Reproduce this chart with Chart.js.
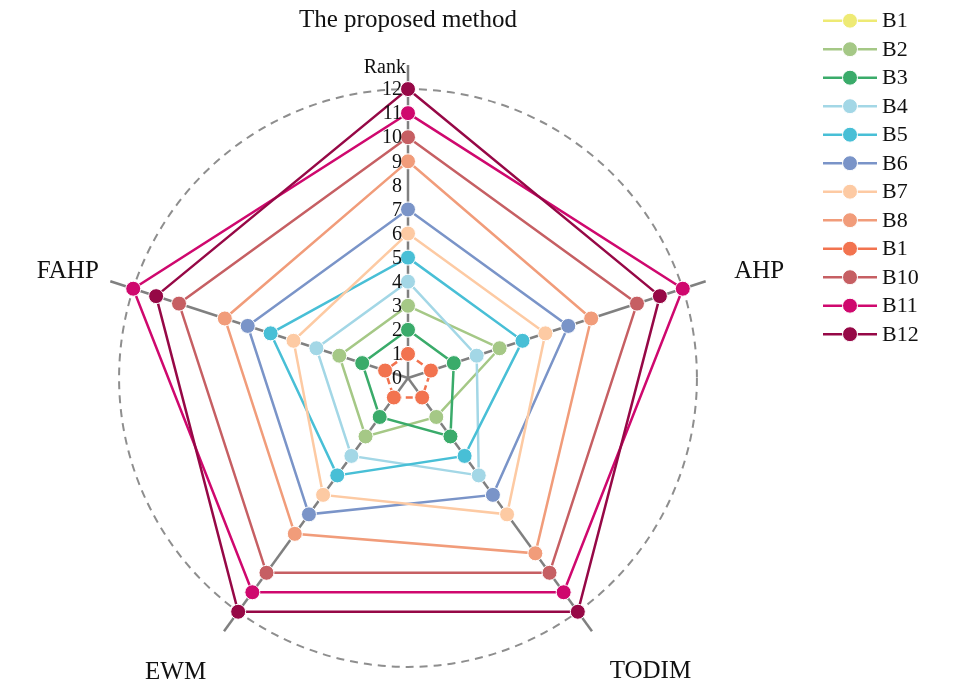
<!DOCTYPE html>
<html lang="en">
<head>
    <meta charset="UTF-8">
    <title>Rank radar</title>
    <script src="https://cdn.jsdelivr.net/npm/chart.js"></script>
    <style>
        body {
            margin: 0;
            background: #ffffff;
        }

        #wrap {
            width: 975px;
            height: 696px;
            position: relative;
        }
    </style>
</head>
<body>
    <div id="wrap">
        <canvas id="rankChart"></canvas>
    </div>

    <script>
        // axes, clockwise from the top
        const methods = ['The proposed method', 'AHP', 'TODIM', 'EWM', 'FAHP'];

        // rank of each alternative under each method (B1 is not drawn in the figure)
        const b1 = [null, null, null, null, null];
        const b2 = [3, 4, 2, 3, 3];
        const b3 = [2, 2, 3, 2, 2];
        const b4 = [4, 3, 5, 4, 4];
        const b5 = [5, 5, 4, 5, 6];
        const b6 = [7, 7, 6, 7, 7];
        const b7 = [6, 6, 7, 6, 5];
        const b8 = [9, 8, 9, 8, 8];
        const b9 = [1, 1, 1, 1, 1];
        const b10 = [10, 10, 10, 10, 10];
        const b11 = [11, 12, 11, 11, 12];
        const b12 = [12, 11, 12, 12, 11];

        const seriesNames = ['B1', 'B2', 'B3', 'B4', 'B5', 'B6', 'B7', 'B8', 'B1', 'B10', 'B11', 'B12'];
        const seriesData = [b1, b2, b3, b4, b5, b6, b7, b8, b9, b10, b11, b12];
        const colors = [
            '#eeea74', '#a5c886', '#3aab6a', '#a3d7e6', '#48bfd6', '#7a94c8',
            '#fdcaa3', '#f19c7a', '#f2734f', '#c65f63', '#cf086e', '#960846'
        ];

        const serif = "'Liberation Serif', 'DejaVu Serif', serif";

        const datasets = seriesData.map((values, i) => ({
            label: seriesNames[i],
            data: values,
            borderColor: colors[i],
            backgroundColor: colors[i],
            pointBackgroundColor: colors[i],
            pointBorderColor: '#ffffff',
            pointBorderWidth: 1,
            pointRadius: 7.5,
            pointHoverRadius: 7.5,
            borderWidth: 2.5,
            borderDash: i === 8 ? [7, 4] : [],
            fill: false,
            // later series sit on top, as in the figure
            order: seriesData.length - i
        }));

        // tick numbers, axis names and the legend, drawn by hand
        const extras = {
            id: 'extras',
            afterDatasetsDraw(chart) {
                const ctx = chart.ctx;
                const r = chart.scales.r;

                ctx.save();
                ctx.fillStyle = '#111111';
                ctx.textAlign = 'right';
                ctx.textBaseline = 'middle';
                ctx.font = '20px ' + serif;
                for (let v = 0; v <= 13; v++) {
                    const y = r.yCenter - r.getDistanceFromCenterForValue(v);
                    if (v === 13) {
                        ctx.fillText('Rank', r.xCenter - 2, y + 3);
                    } else {
                        ctx.fillText(String(v), r.xCenter - 6, y + 1);
                    }
                }

                // axis names
                const nudge = [[0, 5], [6, 6], [29, 0], [-19, 1], [5, 6]];
                ctx.textAlign = 'center';
                ctx.font = '25px ' + serif;
                methods.forEach((name, i) => {
                    const p = r.getPointPosition(i, r.drawingArea + 50);
                    ctx.fillText(name, p.x + nudge[i][0], p.y + nudge[i][1]);
                });

                // legend
                ctx.textAlign = 'left';
                ctx.font = '22px ' + serif;
                chart.data.datasets.forEach((ds, i) => {
                    const y = 20.7 + i * 28.5;
                    ctx.strokeStyle = ds.borderColor;
                    ctx.lineWidth = 2.5;
                    ctx.setLineDash([]);
                    ctx.beginPath();
                    ctx.moveTo(823, y);
                    ctx.lineTo(877, y);
                    ctx.stroke();
                    ctx.beginPath();
                    ctx.arc(850, y, 7.5, 0, Math.PI * 2);
                    ctx.fillStyle = ds.borderColor;
                    ctx.fill();
                    ctx.lineWidth = 1;
                    ctx.strokeStyle = '#ffffff';
                    ctx.stroke();
                    ctx.fillStyle = '#111111';
                    ctx.fillText(ds.label, 882, y + 1);
                });
                ctx.restore();
            }
        };

        const chart = new Chart(document.getElementById('rankChart'), {
            type: 'radar',
            data: {
                labels: methods,
                datasets: datasets
            },
            options: {
                responsive: true,
                maintainAspectRatio: false,
                animation: false,
                layout: {
                    padding: { left: 95, right: 254, top: 65, bottom: 5 }
                },
                plugins: {
                    legend: { display: false },
                    tooltip: { enabled: false }
                },
                elements: {
                    line: { tension: 0 }
                },
                scales: {
                    r: {
                        min: 0,
                        max: 13,
                        ticks: { display: false, stepSize: 1 },
                        pointLabels: { display: false },
                        angleLines: { color: '#808080', lineWidth: 2.5 },
                        grid: {
                            circular: true,
                            color: (c) => c.tick && c.tick.value === 12 ? '#8e8e8e' : 'rgba(0,0,0,0)',
                            lineWidth: 2,
                            borderDash: [8, 6]
                        },
                        border: { dash: [8, 6] }
                    }
                }
            },
            plugins: [extras]
        });
    </script>
</body>
</html>
